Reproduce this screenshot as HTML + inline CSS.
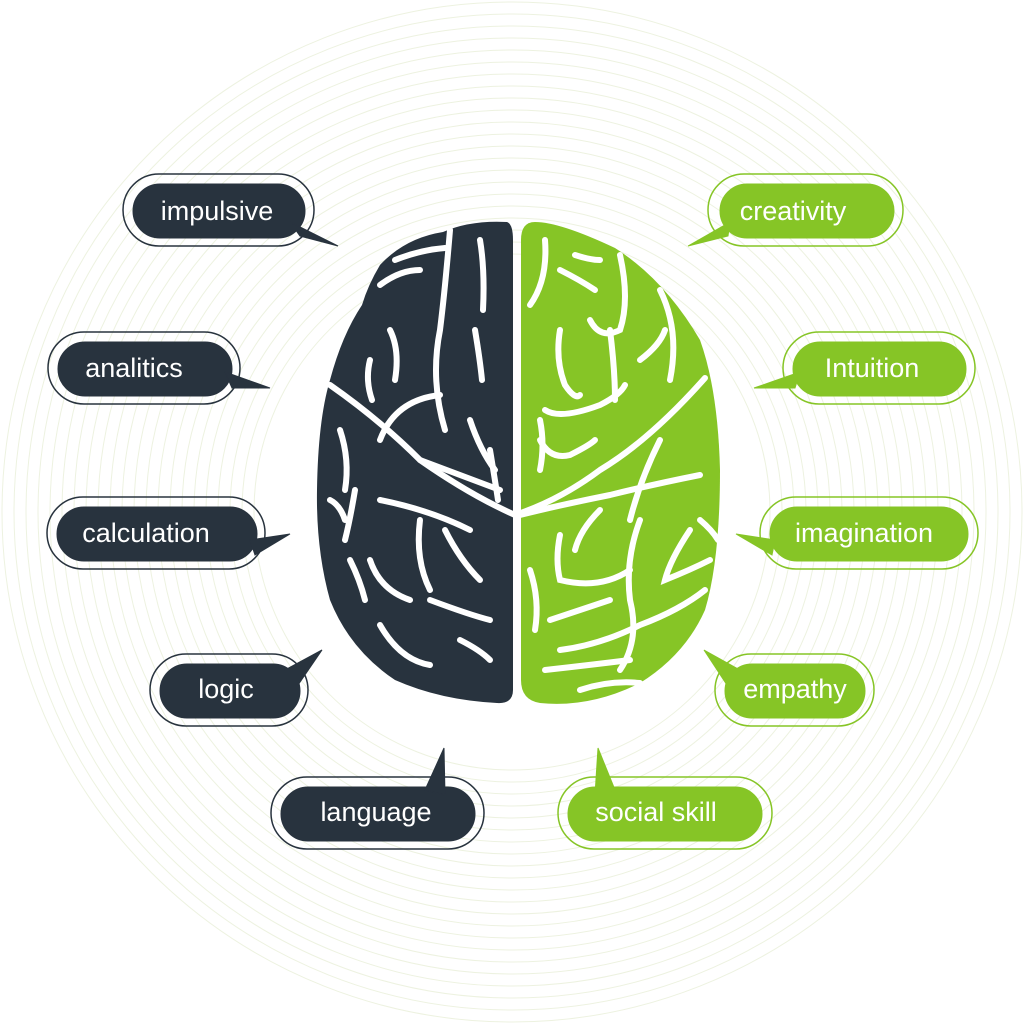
<!DOCTYPE html>
<html><head><meta charset="utf-8"><style>
html,body{margin:0;padding:0;background:#fff;width:1024px;height:1024px;overflow:hidden}
svg{display:block}
text{font-family:"Liberation Sans",sans-serif;font-size:27px;fill:#fff}
</style></head><body>
<svg width="1024" height="1024" viewBox="0 0 1024 1024">
<g fill="none" stroke="#edf2e0" stroke-width="1">
<circle cx="512" cy="512" r="510"/><circle cx="512" cy="512" r="498"/><circle cx="512" cy="512" r="486"/><circle cx="512" cy="512" r="474"/><circle cx="512" cy="512" r="462"/><circle cx="512" cy="512" r="450"/><circle cx="512" cy="512" r="438"/><circle cx="512" cy="512" r="426"/><circle cx="512" cy="512" r="414"/><circle cx="512" cy="512" r="402"/><circle cx="512" cy="512" r="390"/><circle cx="512" cy="512" r="378"/><circle cx="512" cy="512" r="366"/><circle cx="512" cy="512" r="354"/><circle cx="512" cy="512" r="342"/><circle cx="512" cy="512" r="330"/><circle cx="512" cy="512" r="318"/><circle cx="512" cy="512" r="306"/><circle cx="512" cy="512" r="294"/><circle cx="512" cy="512" r="282"/><circle cx="512" cy="512" r="270"/><circle cx="512" cy="512" r="258"/>
</g>
<path fill="#28333e" d="M507,222 Q513,224 513,240 L513,690 Q513,704 497,703 Q440,700 395,680 Q350,650 330,600 Q316,550 317,490 Q318,420 330,380 Q342,335 362,305 Q368,285 380,265 Q405,238 443,232 Q470,220 507,222Z"/>
<path fill="#86c526" d="M535,222 Q560,222 615,248 Q665,280 700,340 Q718,390 720,470 Q720,560 705,610 Q685,655 640,683 Q590,708 540,703 Q521,700 521,680 L521,240 Q521,222 535,222Z"/>
<g fill="none" stroke="#fff" stroke-width="6" stroke-linecap="round">
<path d="M330,385 Q380,420 420,460 Q470,495 515,515 Q560,500 600,470 Q650,440 705,378"/>
<path d="M420,460 Q460,475 500,490"/>
<path d="M380,440 Q395,400 440,395"/>
<path d="M450,230 Q445,290 440,330 Q430,380 445,430"/>
<path d="M395,260 Q420,250 445,248"/><path d="M380,285 Q400,270 420,270"/>
<path d="M390,330 Q400,350 395,380"/><path d="M370,360 Q365,380 372,400"/>
<path d="M480,240 Q485,270 483,310"/><path d="M475,330 Q480,360 482,380"/>
<path d="M340,430 Q350,460 345,490"/><path d="M330,500 Q340,505 345,520"/>
<path d="M355,490 Q350,520 345,540"/><path d="M380,500 Q430,510 470,530"/>
<path d="M420,520 Q415,560 430,590"/><path d="M445,530 Q460,560 480,580"/>
<path d="M370,560 Q380,590 410,600"/><path d="M350,560 Q360,580 365,600"/>
<path d="M430,600 Q470,615 490,620"/><path d="M380,625 Q400,660 430,665"/>
<path d="M460,640 Q480,650 490,660"/><path d="M470,420 Q480,450 495,470"/>
<path d="M490,450 Q495,480 498,500"/>
<path d="M545,240 Q548,280 530,305"/><path d="M560,270 Q580,280 595,290"/>
<path d="M575,255 Q590,260 600,260"/><path d="M620,255 Q630,300 620,330 Q600,340 590,320"/>
<path d="M560,330 Q555,360 565,385 Q575,400 580,395"/><path d="M545,410 Q560,420 600,405 Q620,395 625,385"/>
<path d="M610,330 Q615,370 615,400"/><path d="M660,290 Q680,330 670,380"/>
<path d="M640,360 Q660,345 665,330"/><path d="M540,440 Q550,460 570,455 Q590,445 595,440"/>
<path d="M540,420 Q545,445 540,470"/><path d="M660,440 Q640,480 630,520"/>
<path d="M520,515 Q560,505 610,495 Q650,485 700,475"/>
<path d="M560,535 Q555,560 560,580 Q600,590 630,570"/><path d="M600,510 Q580,530 575,550"/>
<path d="M640,520 Q625,560 630,600 Q640,640 620,670"/><path d="M690,530 Q670,560 665,580 Q690,570 710,560"/>
<path d="M530,570 Q540,600 535,630"/><path d="M550,620 Q580,610 610,600"/>
<path d="M560,650 Q600,645 640,625 Q680,610 705,590"/><path d="M545,670 Q590,665 630,660"/>
<path d="M700,520 Q712,530 718,540"/><path d="M580,690 Q610,680 640,683"/>
</g>
<g fill="#28333e" stroke="#28333e">
<g fill="none" stroke-width="1.5"><rect x="123" y="174" width="191" height="72" rx="36"/><rect x="48" y="332" width="192" height="72" rx="36"/><rect x="47" y="497" width="218" height="72" rx="36"/><rect x="150" y="654" width="158" height="72" rx="36"/><rect x="271" y="777" width="213" height="72" rx="36"/></g>
<rect x="133" y="184" width="172" height="54" rx="27"/><polygon points="290,222 338,246 300,236"/>
<rect x="58" y="342" width="174" height="54" rx="27"/><polygon points="225,372 270,388 232,388"/>
<rect x="57" y="507" width="200" height="54" rx="27"/><polygon points="250,540 290,534 255,555"/>
<rect x="160" y="664" width="140" height="54" rx="27"/><polygon points="285,670 322,650 298,685"/>
<rect x="281" y="787" width="194" height="54" rx="27"/><polygon points="425,790 444,748 445,795"/>
</g>
<g fill="#86c526" stroke="#86c526">
<g fill="none" stroke-width="1.5"><rect x="708" y="174" width="195" height="72" rx="36"/><rect x="783" y="332" width="192" height="72" rx="36"/><rect x="760" y="497" width="218" height="72" rx="36"/><rect x="715" y="654" width="159" height="72" rx="36"/><rect x="558" y="777" width="214" height="72" rx="36"/></g>
<rect x="720" y="184" width="174" height="54" rx="27"/><polygon points="730,222 688,246 728,236"/>
<rect x="793" y="342" width="173" height="54" rx="27"/><polygon points="800,372 754,388 795,388"/>
<rect x="770" y="507" width="198" height="54" rx="27"/><polygon points="775,540 736,534 772,555"/>
<rect x="725" y="664" width="140" height="54" rx="27"/><polygon points="740,670 704,650 727,685"/>
<rect x="568" y="787" width="194" height="54" rx="27"/><polygon points="615,790 598,748 595,795"/>
</g>
<g text-anchor="middle">
<text x="217" y="220">impulsive</text><text x="134" y="377">analitics</text><text x="146" y="542">calculation</text><text x="226" y="698">logic</text><text x="376" y="821">language</text>
<text x="793" y="220">creativity</text><text x="872" y="377">Intuition</text><text x="864" y="542">imagination</text><text x="795" y="698">empathy</text><text x="656" y="821">social skill</text>
</g>
</svg>
</body></html>
